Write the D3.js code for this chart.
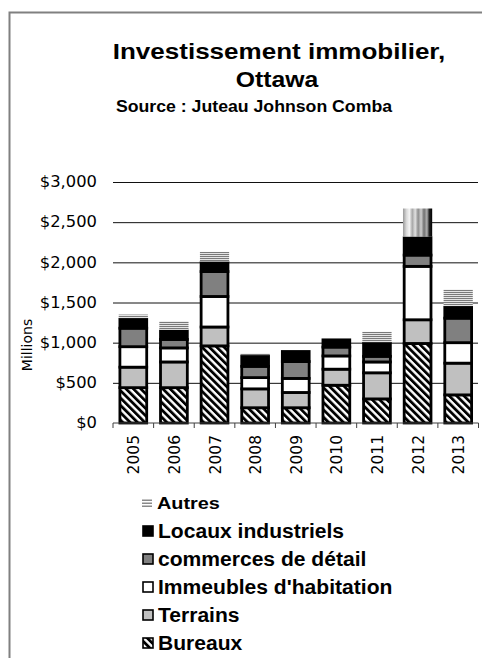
<!DOCTYPE html>
<html>
<head>
<meta charset="utf-8">
<script src="https://cdn.jsdelivr.net/npm/d3@7/dist/d3.min.js"></script>
<style>
  html, body { margin: 0; padding: 0; background: #fff; }
  svg { display: block; }
</style>
</head>
<body>
<script>
// Investissement immobilier à Ottawa, en millions de dollars, par type d'actif
const years = ["2005", "2006", "2007", "2008", "2009", "2010", "2011", "2012", "2013"];
const bureaux   = [440, 440, 960, 190, 190, 470, 300, 990, 350];
const terrains  = [255, 320, 235, 235, 190, 200, 325, 295, 395];
const immeubles = [255, 175, 380, 140, 175, 165, 135, 665, 255];
const commerces = [230, 105, 310, 140, 210, 110,  70, 140, 305];
const locaux    = [110, 105, 110, 125, 125,  90, 160, 215, 135];
const autres    = [ 60, 120, 135,  35,  10,  10, 145, 365, 220];
const seriesNames = ["Bureaux", "Terrains", "Immeubles d'habitation", "commerces de détail", "Locaux industriels", "Autres"];
const yTicks = [0, 500, 1000, 1500, 2000, 2500, 3000];

const W = 482, H = 658;
const svg = d3.select("body").append("svg").attr("width", W).attr("height", H);
svg.append("rect").attr("width", W).attr("height", H).attr("fill", "#fff");

const defs = svg.append("defs");
// hachures diagonales des bureaux
const pBur = defs.append("pattern").attr("id", "p-bureaux")
  .attr("patternUnits", "userSpaceOnUse").attr("width", 5.2).attr("height", 5.2)
  .attr("patternTransform", "rotate(-45)");
pBur.append("rect").attr("width", 5.2).attr("height", 5.2).attr("fill", "#fff");
pBur.append("rect").attr("width", 2.8).attr("height", 5.2).attr("fill", "#000");
// lignes horizontales pour « Autres »
const pAut = defs.append("pattern").attr("id", "p-autres")
  .attr("patternUnits", "userSpaceOnUse").attr("width", 4).attr("height", 2);
pAut.append("rect").attr("width", 4).attr("height", 2).attr("fill", "#e4e4e4");
pAut.append("rect").attr("width", 4).attr("height", 1).attr("fill", "#7a7a7a");
// dégradé vertical du segment « Autres » de 2012
const gAut = defs.append("linearGradient").attr("id", "g-autres")
  .attr("x1", 0).attr("x2", 1).attr("y1", 0).attr("y2", 0);
[[0, "#9a9a9a"], [0.12, "#d8d8d8"], [0.22, "#f4f4f4"], [0.32, "#a8a8a8"], [0.42, "#e0e0e0"],
 [0.52, "#8c8c8c"], [0.62, "#cfcfcf"], [0.72, "#707070"], [0.82, "#b0b0b0"], [0.9, "#222"], [1, "#000"]]
  .forEach(([o, c]) => gAut.append("stop").attr("offset", o).attr("stop-color", c));
const gradientColumns = ["2012"];

const fills = {
  "Bureaux": "url(#p-bureaux)",
  "Terrains": "#c0c0c0",
  "Immeubles d'habitation": "#ffffff",
  "commerces de détail": "#808080",
  "Locaux industriels": "#000000",
  "Autres": "url(#p-autres)"
};

// cadre gris
svg.append("path").attr("d", `M9.5,${H} V12.5 H${W}`)
  .attr("fill", "none").attr("stroke", "#808080").attr("stroke-width", 2);

// étire horizontalement un texte
function stretch(sel, k) {
  sel.each(function () {
    const len = this.getComputedTextLength();
    d3.select(this).attr("textLength", len * k).attr("lengthAdjust", "spacingAndGlyphs");
  });
}

// titre
const titleFont = "'Liberation Sans', Arial, sans-serif";
svg.append("text").attr("x", 279).attr("y", 59).attr("text-anchor", "middle")
  .attr("font-family", titleFont).attr("font-weight", "bold").attr("font-size", 21.5)
  .text("Investissement immobilier,").call(stretch, 1.21);
svg.append("text").attr("x", 277).attr("y", 87).attr("text-anchor", "middle")
  .attr("font-family", titleFont).attr("font-weight", "bold").attr("font-size", 21.5)
  .text("Ottawa").call(stretch, 1.15);
svg.append("text").attr("x", 254).attr("y", 112).attr("text-anchor", "middle")
  .attr("font-family", titleFont).attr("font-weight", "bold").attr("font-size", 17)
  .text("Source : Juteau Johnson Comba").call(stretch, 1.04);

// échelles
const x = d3.scaleBand().domain(years).range([113, 478.5]).padding(0);
const y = d3.scaleLinear().domain([0, 3000]).range([423, 182]);
const bw = x.bandwidth();
const barW = bw * 0.66;

// quadrillage et étiquettes de l'axe vertical
const tickFont = "'DejaVu Sans', Verdana, sans-serif";
const yAxis = svg.append("g").attr("transform", "translate(113,0)")
  .call(d3.axisLeft(y).tickValues(yTicks).tickSize(-(478 - 113)).tickPadding(16)
    .tickFormat(d => "$" + d3.format(",")(d)));
yAxis.select(".domain").remove();
yAxis.selectAll(".tick line").attr("stroke", (d) => d === 0 ? "none" : "#111").attr("stroke-width", 1);
yAxis.selectAll(".tick text").attr("font-family", tickFont).attr("font-size", 15)
  .attr("fill", "#000").call(stretch, 1.09);

svg.append("text").attr("transform", "translate(32,345) rotate(-90)")
  .attr("text-anchor", "middle").attr("font-family", tickFont).attr("font-size", 14)
  .text("Millions");

// barres empilées
const table = years.map((yr, i) => ({
  year: yr,
  "Bureaux": bureaux[i], "Terrains": terrains[i], "Immeubles d'habitation": immeubles[i],
  "commerces de détail": commerces[i], "Locaux industriels": locaux[i], "Autres": autres[i]
}));
const stacked = d3.stack().keys(seriesNames)(table);

stacked.forEach(layer => {
  const key = layer.key;
  const isOther = key === "Autres";
  svg.append("g").selectAll("rect").data(layer).join("rect")
    .attr("x", d => x(d.data.year) + (bw - barW) / 2 - (isOther ? 1.2 : 0))
    .attr("width", barW + (isOther ? 2.4 : 0))
    .attr("y", d => y(d[1]))
    .attr("height", d => Math.max(0, y(d[0]) - y(d[1]) - (isOther ? 1.2 : 0)))
    .attr("fill", d => isOther && gradientColumns.includes(d.data.year) ? "url(#g-autres)" : fills[key])
    .attr("stroke", isOther ? "none" : "#000")
    .attr("stroke-width", 2.8);
});

// axe horizontal
const xAxis = svg.append("g").attr("transform", "translate(0,423)");
xAxis.append("line").attr("x1", 113).attr("x2", 478.5).attr("stroke", "#404040");
xAxis.selectAll("line.tk").data(d3.range(years.length + 1)).join("line").attr("class", "tk")
  .attr("x1", i => 113 + i * bw).attr("x2", i => 113 + i * bw)
  .attr("y1", 0).attr("y2", 5).attr("stroke", "#404040");
xAxis.selectAll("text").data(years).join("text")
  .attr("transform", d => `translate(${x(d) + bw / 2 + 6},12) rotate(-90)`)
  .attr("text-anchor", "end").attr("font-family", tickFont).attr("font-size", 15.5)
  .text(d => d);

// légende
const legendRows = seriesNames.slice().reverse();
const legend = svg.append("g");
legendRows.forEach((name, i) => {
  const cy = 503 + i * 28;
  const g = legend.append("g");
  if (name === "Autres") {
    [-3, 0, 3].forEach(o => g.append("rect").attr("x", 142).attr("y", cy + o - 0.5)
      .attr("width", 10).attr("height", 1.5).attr("fill", "#8a8a8a"));
    g.append("text").attr("x", 157).attr("y", cy + 5.5)
      .attr("font-family", titleFont).attr("font-weight", "bold").attr("font-size", 16)
      .text(name).call(stretch, 1.24);
  } else {
    g.append("rect").attr("x", 143).attr("y", cy - 5).attr("width", 10).attr("height", 10)
      .attr("fill", fills[name]).attr("stroke", "#000").attr("stroke-width", 1.6);
    g.append("text").attr("x", 158).attr("y", cy + 7)
      .attr("font-family", titleFont).attr("font-weight", "bold").attr("font-size", 19.5)
      .text(name).call(stretch, 1.08);
  }
});
</script>
</body>
</html>
